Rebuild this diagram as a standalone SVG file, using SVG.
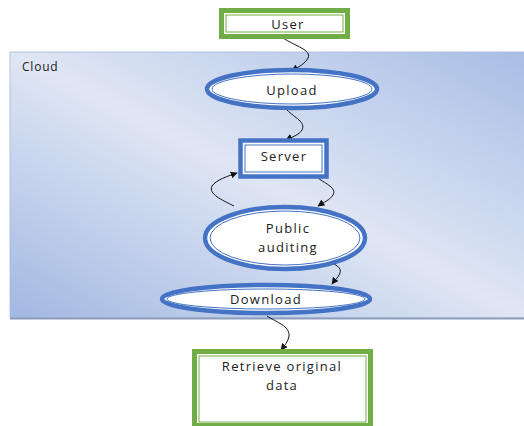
<svg xmlns="http://www.w3.org/2000/svg" width="524" height="426" viewBox="0 0 524 426">
<defs>
<linearGradient id="cloudGrad" x1="1" y1="0" x2="0" y2="1">
<stop offset="0" stop-color="#a8bde5"/>
<stop offset="0.5" stop-color="#dfe6f4"/>
<stop offset="1" stop-color="#a2b8e2"/>
</linearGradient>
<marker id="arrow" viewBox="0 0 10 10" refX="9" refY="5" markerWidth="7" markerHeight="7" orient="auto-start-reverse" markerUnits="userSpaceOnUse">
<path d="M0,0 L10,5 L0,10 z" fill="#111"/>
</marker>
<style>
text{font-family:"Open Sans","Liberation Sans",sans-serif;font-size:13px;letter-spacing:1.3px;fill:#222;text-anchor:middle}
.gOuter{fill:#ffffff;stroke:#70ad47;stroke-width:5}
.gInner{fill:none;stroke:#70ad47;stroke-width:1}
.bOuter{fill:#ffffff;stroke:#4472c4;stroke-width:4.5}
.bInner{fill:none;stroke:#4472c4;stroke-width:1}
.conn{fill:none;stroke:#111;stroke-width:1;marker-end:url(#arrow)}
</style>
</defs>
<rect width="524" height="426" fill="#ffffff"/>
<g id="cloud">
<rect x="10" y="52" width="520" height="266" fill="url(#cloudGrad)" stroke="#a9b8d6" stroke-width="0.8"/>
<line x1="10" y1="318.5" x2="524" y2="318.5" stroke="#8d9cbb" stroke-width="2"/>
<text x="22" y="71" style="text-anchor:start;font-size:12px;letter-spacing:0.8px">Cloud</text>
</g>
<g id="connectors">
<path class="conn" d="M283,38 C295,46 312,50 308,58 C305,64 298,67 292,71"/>
<path class="conn" d="M287,110 C295,118 306,122 302,130 C299,135 292,137 286,140"/>
<path class="conn" d="M318,178 C326,184 337,188 333,195 C330,200 324,202 318,206"/>
<path class="conn" d="M234,206 C222,200 208,194 212,186 C216,180 228,176 237,173"/>
<path class="conn" d="M328,262 C336,264 342,268 340,273 C338,278 335,280 332,284"/>
<path class="conn" d="M267,316 C276,322 290,326 289,336 C288,342 285,345 281,350"/>
</g>
<g id="user">
<rect class="gOuter" x="221.5" y="10.5" width="126" height="26"/>
<rect class="gInner" x="226" y="15" width="117" height="17"/>
<text x="288" y="29">User</text>
</g>
<g id="upload">
<ellipse class="bOuter" cx="292" cy="89" rx="85" ry="19"/>
<ellipse class="bInner" cx="292" cy="89" rx="80" ry="15"/>
<text x="292" y="95">Upload</text>
</g>
<g id="server">
<rect class="bOuter" x="240.5" y="140.5" width="86" height="36"/>
<rect class="bInner" x="245" y="145" width="77" height="27"/>
<text x="284" y="161">Server</text>
</g>
<g id="public-auditing">
<ellipse class="bOuter" cx="285" cy="238" rx="80" ry="31"/>
<ellipse class="bInner" cx="285" cy="238" rx="75" ry="27"/>
<text x="288" y="233">Public</text>
<text x="288" y="252">auditing</text>
</g>
<g id="download">
<ellipse class="bOuter" cx="266" cy="299" rx="104" ry="14"/>
<ellipse class="bInner" cx="266" cy="299" rx="99" ry="10"/>
<text x="266" y="304">Download</text>
</g>
<g id="retrieve">
<rect class="gOuter" x="194.5" y="351.5" width="176" height="74"/>
<rect class="gInner" x="199" y="356" width="167" height="66"/>
<text x="282" y="371">Retrieve original</text>
<text x="282" y="390">data</text>
</g>
</svg>
